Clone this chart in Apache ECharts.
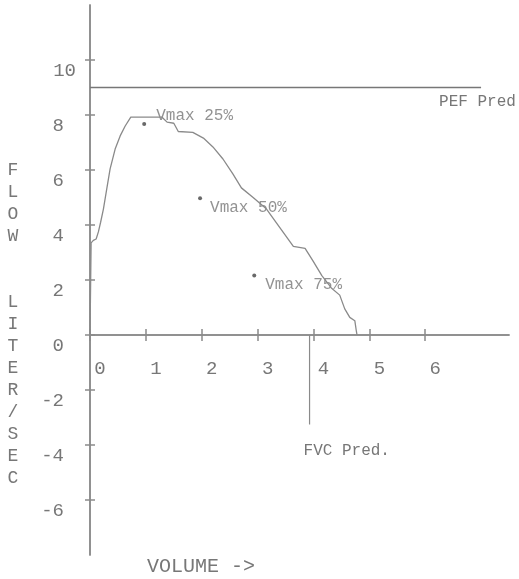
<!DOCTYPE html>
<html>
<head>
<meta charset="utf-8">
<script src="https://cdn.jsdelivr.net/npm/echarts@6/dist/echarts.min.js"></script>
<style>
html,body{margin:0;padding:0;background:#fff;}
#c{width:519px;height:579px;}
</style>
</head>
<body>
<div id="c"></div>
<script>
// ---- data ----
var curveVolume = [0, 0.02, 0.06, 0.11, 0.15, 0.19, 0.24, 0.30, 0.36, 0.45, 0.54, 0.63, 0.73, 1.29, 1.38, 1.50, 1.58, 1.84, 2.03, 2.20, 2.38, 2.56, 2.71, 2.92, 3.16, 3.34, 3.64, 3.85, 3.98, 4.15, 4.32, 4.47, 4.56, 4.65, 4.74, 4.77, 4.78];
var curveFlow   = [0, 3.35, 3.44, 3.49, 3.75, 4.10, 4.58, 5.31, 6.04, 6.76, 7.24, 7.60, 7.92, 7.92, 7.74, 7.70, 7.40, 7.37, 7.16, 6.84, 6.40, 5.85, 5.35, 5.00, 4.58, 4.07, 3.22, 3.15, 2.73, 2.16, 1.71, 1.45, 0.95, 0.64, 0.52, 0.11, 0];
var vmaxNames  = ['Vmax 25%', 'Vmax 50%', 'Vmax 75%'];
var vmaxVolume = [0.97, 1.97, 2.94];
var vmaxFlow   = [7.67, 4.97, 2.16];
var pefPred = 9.0;
var pefVolumeRange = [0, 7.0];
var fvcPred = 3.93;
var fvcFlowRange = [0, -3.25];
var xTicks = [0, 1, 2, 3, 4, 5, 6];
var yTicks = [-6, -4, -2, 0, 2, 4, 6, 8, 10];
var xRange = [0, 7.5];
var yRange = [-8, 12];

// ---- styling ----
var FONT = 'Liberation Mono';
var TXT = '#777';
var LINE = '#8a8a8a';
var GRID = {left: 90, right: 10, top: 5, bottom: 24};
var CH = 579;

var curveData = curveVolume.map(function (v, i) { return [v, curveFlow[i]]; });
var vmaxLabelCfg = [
  {distance: 10, offset: [0, -8]},
  {distance: 8, offset: [0, 9]},
  {distance: 9, offset: [0, 9]}
];
var vmaxData = vmaxNames.map(function (n, i) {
  return {
    name: n,
    value: [vmaxVolume[i], vmaxFlow[i]],
    label: {show: true, position: 'right', distance: vmaxLabelCfg[i].distance, offset: vmaxLabelCfg[i].offset}
  };
});

// offset that lifts the bottom x axis up to flow = 0
var gridH = CH - GRID.top - GRID.bottom;
var zeroLift = gridH * (0 - yRange[0]) / (yRange[1] - yRange[0]);

var xAxes = [
  {
    type: 'value', min: xRange[0], max: xRange[1], interval: 1,
    position: 'bottom', offset: -zeroLift,
    axisLine: {show: true, onZero: false, lineStyle: {color: LINE, width: 1.5}},
    axisTick: {show: true, inside: false, length: 6, customValues: xTicks, lineStyle: {color: LINE, width: 1.5}},
    axisLabel: {
      show: true, customValues: xTicks, margin: 24, padding: [0, 0, 0, 20],
      fontFamily: FONT, fontSize: 19, color: TXT
    },
    splitLine: {show: false}
  },
  {
    type: 'value', min: xRange[0], max: xRange[1], interval: 1,
    position: 'top',
    axisLine: {show: true, onZero: true, onZeroAxisIndex: 1, lineStyle: {color: LINE, width: 1.5}},
    axisTick: {show: true, inside: false, length: 6, customValues: xTicks, lineStyle: {color: LINE, width: 1.5}},
    axisLabel: {show: false},
    splitLine: {show: false}
  }
];
var yRich = {
  n: {padding: [0, 12, 0, 0], lineHeight: 21, fontFamily: FONT, fontSize: 19, color: TXT},
  w: {lineHeight: 21, fontFamily: FONT, fontSize: 19, color: TXT}
};
function baseY(idx, withLabels) {
  return {
    type: 'value', min: yRange[0], max: yRange[1], interval: 2,
    position: idx === 0 ? 'left' : 'right',
    axisLine: {show: true, onZero: true, onZeroAxisIndex: idx, lineStyle: {color: LINE, width: 1.5}},
    axisTick: {show: true, inside: false, length: 5, customValues: yTicks, lineStyle: {color: LINE, width: 1.5}},
    axisLabel: withLabels ? {
      show: true, customValues: yTicks, margin: 14, verticalAlign: 'top', lineHeight: 21,
      fontFamily: FONT, fontSize: 19, color: TXT,
      formatter: function (v) { return String(v).length > 1 && v > 0 ? '{w|' + v + '}' : '{n|' + v + '}'; },
      rich: yRich
    } : {show: false},
    splitLine: {show: false}
  };
}

var chart = echarts.init(document.getElementById('c'), null, {renderer: 'canvas'});
chart.setOption({
  animation: false,
  backgroundColor: '#fff',
  grid: {left: GRID.left, right: GRID.right, top: GRID.top, bottom: GRID.bottom, containLabel: false, outerBoundsMode: 'none'},
  xAxis: xAxes,
  yAxis: [baseY(0, true), baseY(1, false)],
  graphic: [
    {
      type: 'text', x: 13, y: 159,
      style: {
        text: ['F','L','O','W','','','L','I','T','E','R','/','S','E','C'].join('\n'),
        font: '18px "Liberation Mono"', fill: TXT, lineHeight: 22, align: 'center', verticalAlign: 'top'
      }
    },
    {
      type: 'text', x: 147, y: 557,
      style: {text: 'VOLUME ->', font: '20px "Liberation Mono"', fill: TXT, verticalAlign: 'top'}
    }
  ],
  series: [
    {
      type: 'line', data: curveData, symbol: 'none', smooth: false,
      lineStyle: {color: LINE, width: 1.3}
    },
    {
      type: 'line', data: [[pefVolumeRange[0], pefPred], [pefVolumeRange[1], pefPred]], symbol: 'none',
      lineStyle: {color: '#777', width: 1.5},
      endLabel: {show: true, formatter: 'PEF Pred', offset: [-50, 14], fontFamily: FONT, fontSize: 16, color: TXT}
    },
    {
      type: 'line', data: [[fvcPred, fvcFlowRange[0]], [fvcPred, fvcFlowRange[1]]], symbol: 'none',
      lineStyle: {color: LINE, width: 1.2},
      endLabel: {show: true, formatter: 'FVC Pred.', offset: [-14, 26], fontFamily: FONT, fontSize: 16, color: TXT}
    },
    {
      type: 'scatter', data: vmaxData, symbolSize: 4,
      itemStyle: {color: '#444'},
      label: {formatter: '{b}', fontFamily: FONT, fontSize: 16, color: TXT}
    }
  ]
});
</script>
</body>
</html>
